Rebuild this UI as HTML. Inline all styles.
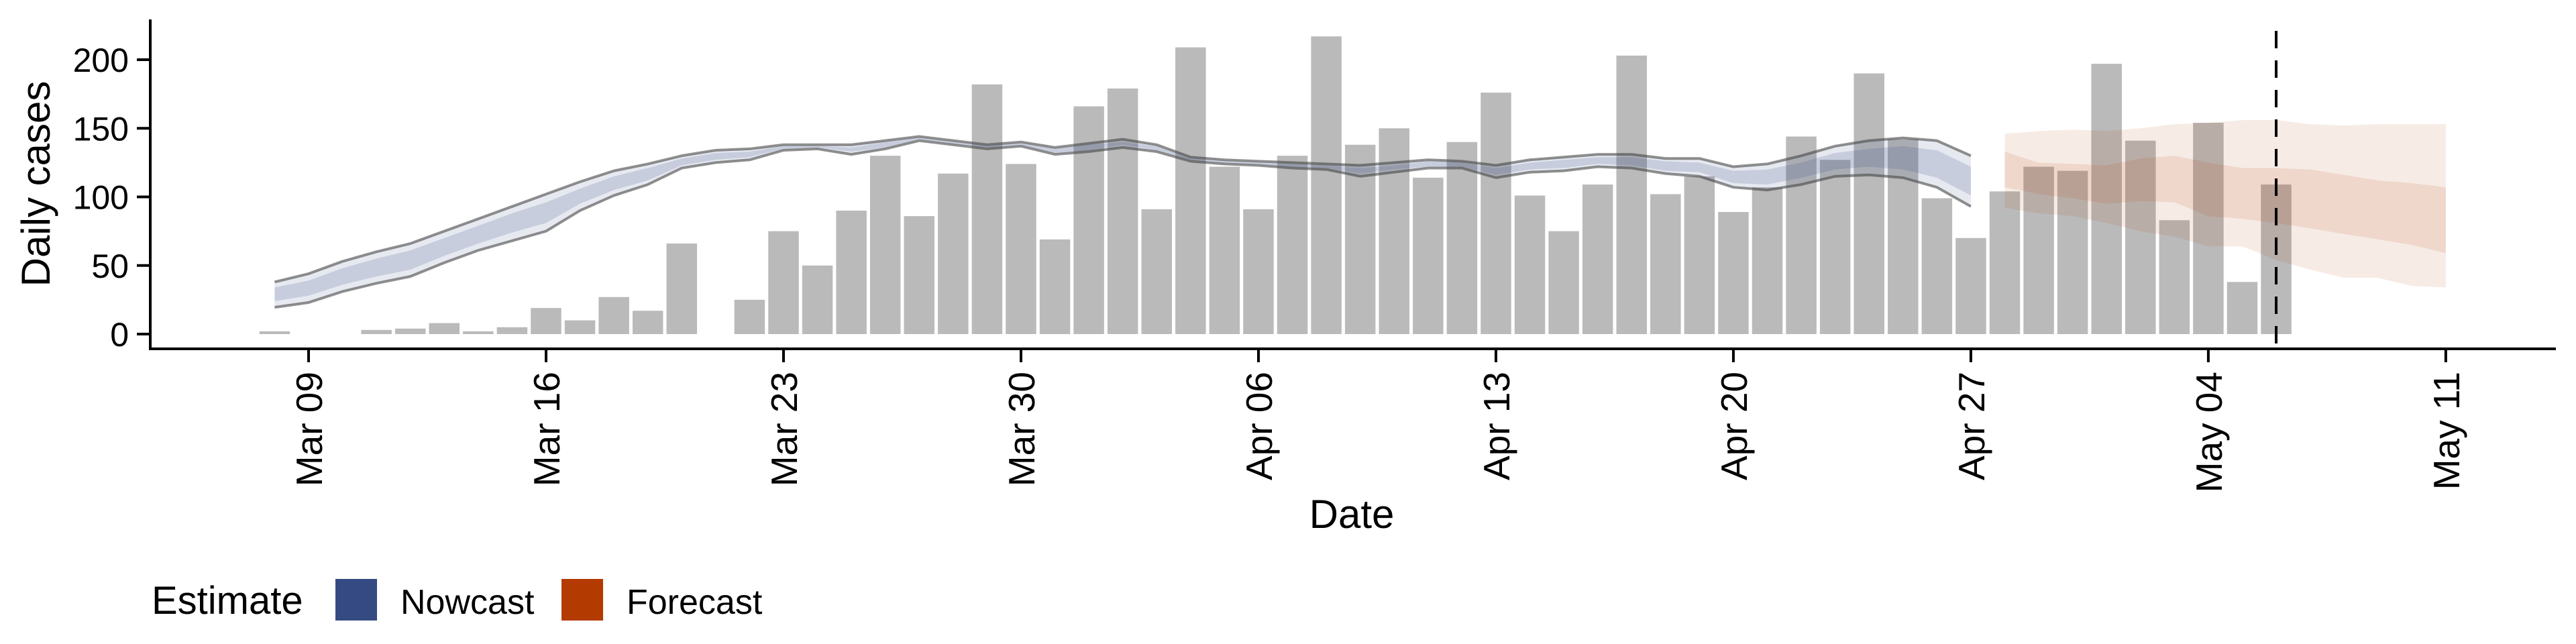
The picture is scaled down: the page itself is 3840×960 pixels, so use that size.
<!DOCTYPE html>
<html><head><meta charset="utf-8"><style>
html,body{margin:0;padding:0;background:#fff}
svg{display:block;font-family:"Liberation Sans",sans-serif}
</style></head><body>
<svg id="chart" width="3840" height="960" viewBox="0 0 3840 960" xmlns="http://www.w3.org/2000/svg">
<g id="bars"></g>
<g id="bands"></g>
<g id="lines"></g>
<g id="axes"></g>
<line id="vline" stroke="#000" stroke-width="4" stroke-dasharray="26,18"/>
<text x="0" y="0" transform="translate(74,274) rotate(-90)" text-anchor="middle" font-size="60">Daily cases</text>
<text x="2015" y="787" text-anchor="middle" font-size="60">Date</text>
<g>
<text x="226" y="915" font-size="58">Estimate</text>
<rect x="500" y="863" width="62" height="62" fill="#354a82"/>
<text x="597" y="915" font-size="52">Nowcast</text>
<rect x="837" y="863" width="62" height="62" fill="#b33a00"/>
<text x="934" y="915" font-size="52">Forecast</text>
</g>
</svg>
<script>
const startDate = "2020-03-08";
const cases = [2,0,0,3,4,8,2,5,19,10,27,17,66,0,25,75,50,90,130,86,117,182,124,69,166,179,91,209,122,91,130,217,138,150,114,140,176,101,75,109,203,102,115,89,107,144,127,190,142,99,70,104,122,119,197,141,83,154,38,109];
const nowStart = "2020-03-08";
const nowUpper = [38,44,53,60,66,75,84,93,102,111,119,124,130,134,135,138,138,138,141,144,141,138,140,136,139,142,138,129,127,126,125,124,123,125,127,126,123,127,129,131,131,128,128,122,124,130,137,141,143,141,130];
const nowLower = [19.5,23,31,37,42,52,61,68,75,90,101,109,121,125,127,134,135,131,135,141,138,135,137,131,133,136,133,126,124,123,121,120,115,118,121,121,114,118,119,122,121,117,115,107,105,109,115,116,114,107,93];
const nowInUpper = [34,39,48,55,61,70,79,88,96,106,115,121,128,132,133,137,137,136,140,143,140,137,139,135,138,140,137,128,126,125,124,123,121,123,126,125,121,125,127,129,129,126,125,119,120,125,132,135,137,134,122];
const nowInLower = [24,28,36,42,47,57,66,74,81,95,105,112,123,127,129,135,136,133,136,142,139,136,138,132,134,138,134,127,125,124,122,121,117,120,122,122,116,120,121,124,123,119,118,110,109,114,120,122,120,114,101];
const fcStart = "2020-04-28";
const fcUpper = [146,148,149,148,150,153,154,156,156,153,152,153,153,153];
const fcLower = [92,88,86,81,75,71,64,64,54,47,41,41,35,34];
const fcInUpper = [133,125,124,123,128,130,125,121,121,120,116,112,110,107];
const fcInLower = [107,102,99,95,97,96,86,84,81,77,73,69,65,59];
const yTicks = [0,50,100,150,200];
const xTickLabels = ["Mar 09","Mar 16","Mar 23","Mar 30","Apr 06","Apr 13","Apr 20","Apr 27","May 04","May 11"];
const xTickDates = ["2020-03-09","2020-03-16","2020-03-23","2020-03-30","2020-04-06","2020-04-13","2020-04-20","2020-04-27","2020-05-04","2020-05-11"];
const forecastDate = "2020-05-06";

const NS="http://www.w3.org/2000/svg";
const origin=Date.UTC(2020,2,9);
function dayOf(s){const p=s.split("-");return (Date.UTC(+p[0],+p[1]-1,+p[2])-origin)/86400000;}
function x(d){return 460+50.57*d;}
function y(v){return 498-2.045*v;}
function mk(tag,attrs,parent){const e=document.createElementNS(NS,tag);for(const k in attrs)e.setAttribute(k,attrs[k]);parent.appendChild(e);return e;}

const gb=document.getElementById("bars");
const d0=dayOf(startDate);
cases.forEach((v,i)=>{
  const d=d0+i;
  const r=mk("rect",{x:x(d)-22.75,y:y(v),width:45.5,height:Math.max(0,y(0)-y(v)),fill:"#bababa"},gb);
  
  
});

function band(start,up,lo,fill,name,parent){
  const s=dayOf(start);
  let pts=up.map((v,i)=>x(s+i)+","+y(v));
  pts=pts.concat(lo.map((v,i)=>x(s+i)+","+y(v)).reverse());
  const p=mk("polygon",{points:pts.join(" "),fill:fill},parent);
  
  
}
const gbd=document.getElementById("bands");
band(nowStart,nowUpper,nowLower,"rgba(53,74,130,0.12)","nowcast-outer-band",gbd);
band(nowStart,nowInUpper,nowInLower,"rgba(53,74,130,0.17)","nowcast-inner-band",gbd);
band(fcStart,fcUpper,fcLower,"rgba(179,58,0,0.10)","forecast-outer-band",gbd);
band(fcStart,fcInUpper,fcInLower,"rgba(179,58,0,0.11)","forecast-inner-band",gbd);

const gl=document.getElementById("lines");
function line(start,vals,name){
  const s=dayOf(start);
  const p=mk("polyline",{points:vals.map((v,i)=>x(s+i)+","+y(v)).join(" "),fill:"none",stroke:"rgba(70,70,70,0.6)","stroke-width":4,"stroke-linejoin":"round"},gl);
  
  
}
line(nowStart,nowUpper,"nowcast-upper-line");
line(nowStart,nowLower,"nowcast-lower-line");

const ga=document.getElementById("axes");
const ya=mk("line",{x1:224,y1:29,x2:224,y2:522,stroke:"#000","stroke-width":4},ga);


const xa=mk("line",{x1:222,y1:520,x2:3810,y2:520,stroke:"#000","stroke-width":4},ga);


yTicks.forEach(v=>{
  const t=mk("line",{x1:204,x2:224,y1:y(v),y2:y(v),stroke:"#000","stroke-width":4},ga);
  
  
  const l=mk("text",{x:192,y:y(v)+18,"text-anchor":"end","font-size":50},ga);
  l.textContent=v;
  
  
});
xTickDates.forEach((s,i)=>{
  const xx=x(dayOf(s));
  const t=mk("line",{x1:xx,x2:xx,y1:520,y2:540,stroke:"#000","stroke-width":4},ga);
  
  
  const l=mk("text",{x:0,y:0,"text-anchor":"end","font-size":55,transform:"translate("+(xx+20)+",554) rotate(-90)"},ga);
  l.textContent=xTickLabels[i];
  
  
});
const vl=document.getElementById("vline");
const fx=x(dayOf(forecastDate));
vl.setAttribute("x1",fx);vl.setAttribute("x2",fx);
vl.setAttribute("y1",46);vl.setAttribute("y2",520);
</script>
</body></html>
